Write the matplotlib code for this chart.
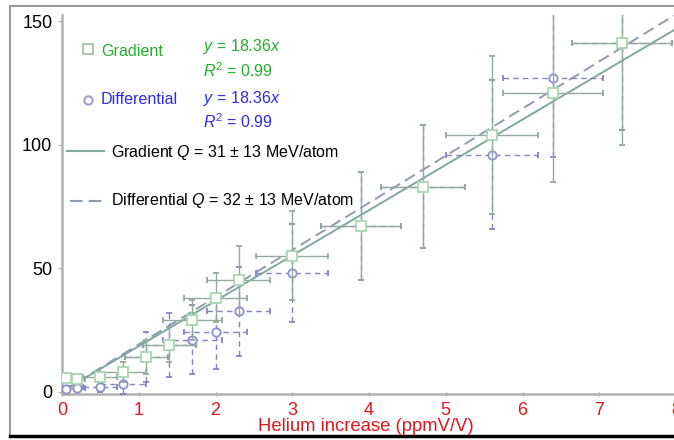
import matplotlib.pyplot as plt
from matplotlib.lines import Line2D

plt.rcParams['font.family'] = ['Liberation Sans', 'DejaVu Sans']
plt.rcParams['mathtext.fontset'] = 'custom'
plt.rcParams['mathtext.rm'] = 'Liberation Sans'
plt.rcParams['mathtext.it'] = 'Liberation Sans:italic'

# helium increase (ppmV/V) and energy per point
x_vals = [0.05, 0.2, 0.5, 0.8, 1.1, 1.4, 1.7, 2.0, 2.3, 3.0, 3.9, 4.7, 5.6, 6.4, 7.3]
x_err = [0.05, 0.1, 0.22, 0.3, 0.28, 0.35, 0.38, 0.41, 0.41, 0.47, 0.52, 0.55, 0.6, 0.65, 0.65]

grad_y = [5.5, 5, 6, 8, 14, 19, 29, 38, 45, 55, 67, 83, 104, 121, 141]
grad_yerr = [1, 1, 2, 4, 7, 7, 8, 10, 14, 18, 22, 25, 32, 36, 41]

diff_y = [1, 1.5, 1.8, 3, 14, 19, 21, 24, 32.5, 48, 67, 83, 96, 127, 141]
diff_yerr = [1, 1, 2, 4, 10, 13, 14, 15, 18, 20, 22, 25, 30, 32, 35]

grad_slope = 18.36
diff_slope = 19.1
fit_x = [0, 8]

W, H = 674, 440
fig = plt.figure(figsize=(W / 100, H / 100), dpi=100)


def fx(px):
    return px / W


def fy(py):
    return 1 - py / H


ax = fig.add_axes([fx(62), fy(394), fx(676) - fx(62), fy(15) - fy(394)])

# fit lines
ax.plot(fit_x, [grad_slope * v for v in fit_x], color='#7fa9a0', lw=1.4, zorder=2)
ax.plot(fit_x, [diff_slope * v for v in fit_x], color='#8e9cb0', lw=1.4,
        linestyle=(0, (6, 3)), zorder=2)

# differential: dashed error bars, circles
eb = ax.errorbar(x_vals, diff_y, xerr=x_err, yerr=diff_yerr, fmt='o', ms=6,
                 mfc='white', mec='#8f8fd0', mew=1.3, ecolor='#8484c4',
                 elinewidth=1.0, capsize=2.5, zorder=3)
for lc in eb[2]:
    lc.set_linestyle((0, (4, 3)))

# gradient: solid error bars, squares
ax.errorbar(x_vals, grad_y, xerr=x_err, yerr=grad_yerr, fmt='s', ms=7,
            mfc='white', mec='#a8d8b0', mew=1.3, ecolor='#93aa9e',
            elinewidth=1.0, capsize=2.5, zorder=4)

ax.set_xlim(0, 8)
ax.set_ylim(-1, 152.5)
ax.set_xticks(range(0, 9))
ax.set_yticks([0, 50, 100, 150])
ax.tick_params(axis='x', colors='#aaaaaa', labelcolor='#e8141c', labelsize=13,
               length=3, direction='inout', pad=4)
ax.tick_params(axis='y', colors='#aaaaaa', labelcolor='black', labelsize=13,
               length=3, direction='out', pad=4)
for side in ['top', 'right']:
    ax.spines[side].set_visible(False)
for side in ['left', 'bottom']:
    ax.spines[side].set_color('#b0b0b0')
    ax.spines[side].set_linewidth(1.8)
ax.patch.set_alpha(0)

fig.text(fx(366), fy(426), 'Helium increase (ppmV/V)', color='#e8141c',
         fontsize=13.3, ha='center', va='center')

# legend block
green = '#1fae2a'
blue = '#2b2bef'
fig.add_artist(Line2D([fx(88)], [fy(49)], marker='s', ms=7, mfc='white',
                      mec='#a8c8b0', mew=1.5))
fig.text(fx(101), fy(51), 'Gradient', color=green, fontsize=11.6, va='center')
fig.text(fx(203), fy(46), '$y$ = 18.36$x$', color=green, fontsize=11.5, va='center')
fig.text(fx(203), fy(71), '$R^2$ = 0.99', color=green, fontsize=11.5, va='center')

fig.add_artist(Line2D([fx(88)], [fy(100)], marker='o', ms=6, mfc='white',
                      mec='#a0a0d0', mew=1.5))
fig.text(fx(101), fy(100), 'Differential', color=blue, fontsize=11.6, va='center')
fig.text(fx(203), fy(98), '$y$ = 18.36$x$', color=blue, fontsize=11.5, va='center')
fig.text(fx(203), fy(122), '$R^2$ = 0.99', color=blue, fontsize=11.5, va='center')

fig.add_artist(Line2D([fx(67), fx(104)], [fy(151), fy(151)], color='#7fa9a0', lw=1.5))
fig.text(fx(111), fy(152), 'Gradient $Q$ = 31 ± 13 MeV/atom', color='black',
         fontsize=11.5, va='center')
fig.add_artist(Line2D([fx(70), fx(104)], [fy(201), fy(201)], color='#8e9cb0', lw=1.5,
                      linestyle=(0, (6, 3))))
fig.text(fx(111), fy(201), 'Differential $Q$ = 32 ± 13 MeV/atom', color='black',
         fontsize=11.5, va='center')

# outer frame
fig.add_artist(Line2D([fx(10), fx(10)], [fy(6), fy(436)], color='#999999', lw=1.5))
fig.add_artist(Line2D([fx(10), 1], [fy(6), fy(6)], color='#999999', lw=1.5))
fig.add_artist(Line2D([fx(10), 1], [fy(436), fy(436)], color='black', lw=2.5))

fig.savefig('out.png', dpi=100)
